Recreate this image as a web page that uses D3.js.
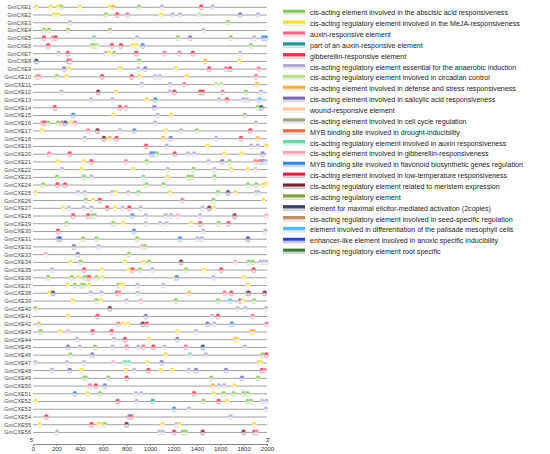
<!DOCTYPE html>
<html>
<head>
<meta charset="utf-8">
<script src="https://cdn.jsdelivr.net/npm/d3@7"></script>
<style>
  body { margin: 0; background: #fff; }
  text { font-family: "Liberation Sans", Arial, sans-serif; }
</style>
</head>
<body>
<div id="chart"></div>
<script>
// element types shown in the legend, in legend order
const elementNames = [
  "cis-acting element involved in the abscisic acid responsiveness",
  "cis-acting regulatory element involved in the MeJA-responsiveness",
  "auxin-responsive element",
  "part of an auxin-responsive element",
  "gibberellin-responsive element",
  "cis-acting regulatory element essential for the anaerobic induction",
  "cis-acting regulatory element involved in circadian control",
  "cis-acting element involved in defense and stress responsiveness",
  "cis-acting element involved in salicylic acid responsiveness",
  "wound-responsive element",
  "cis-acting element involved in cell cycle regulation",
  "MYB binding site involved in drought-inducibility",
  "cis-acting regulatory element involved in auxin responsiveness",
  "cis-acting element involved in gibberellin-responsiveness",
  "MYB binding site involved in flavonoid biosynthetic genes regulation",
  "cis-acting element involved in low-temperature responsiveness",
  "cis-acting regulatory element related to meristem expression",
  "cis-acting regulatory element",
  "element for maximal elicitor-mediated activation (2copies)",
  "cis-acting regulatory element involved in seed-specific regulation",
  "element involved in differentiation of the palisade mesophyll cells",
  "enhancer-like element involved in anoxic specific inducibility",
  "cis-acting regulatory element root specific"
];

const elementColors = [
  "#86c25a", "#f5d83c", "#f06a88", "#23958f", "#e42c48", "#aeaacf",
  "#b6df8c", "#f7ab3a", "#7a68ad", "#f8c6a4", "#9ca88c", "#e56c4a",
  "#68d4a2", "#f7a6b8", "#3a7fdd", "#c9283e", "#6e2230", "#86a03c",
  "#323e68", "#bd8c62", "#4cb6ee", "#2f3fd4", "#3a783a"
];

const geneNames = [
  "GmCXE1", "GmCXE2", "GmCXE3", "GmCXE4", "GmCXE5", "GmCXE6", "GmCXE7", "GmCXE8",
  "GmCXE9", "GmCXE10", "GmCXE11", "GmCXE12", "GmCXE13", "GmCXE14", "GmCXE15", "GmCXE16",
  "GmCXE17", "GmCXE18", "GmCXE19", "GmCXE20", "GmCXE21", "GmCXE22", "GmCXE23", "GmCXE24",
  "GmCXE25", "GmCXE26", "GmCXE27", "GmCXE28", "GmCXE29", "GmCXE30", "GmCXE31", "GmCXE32",
  "GmCXE33", "GmCXE34", "GmCXE35", "GmCXE36", "GmCXE37", "GmCXE38", "GmCXE39", "GmCXE40",
  "GmCXE41", "GmCXE42", "GmCXE43", "GmCXE44", "GmCXE45", "GmCXE46", "GmCXE47", "GmCXE48",
  "GmCXE49", "GmCXE50", "GmCXE51", "GmCXE52", "GmCXE53", "GmCXE54", "GmCXE55", "GmCXE56"
];

// [position (bp), element type index] for each promoter
const promoterSites = [
  [[29,1],[149,1],[214,1],[243,0],[400,1],[657,1],[686,7],[906,0],[1100,5],[1437,4],[1534,5]],
  [[180,1],[214,1],[623,0],[720,4],[806,2],[1094,1],[1194,5],[1257,5],[1420,6],[1771,8],[1923,5]],
  [[317,5],[1666,0]],
  [[94,0],[134,0],[300,0],[657,0],[1457,5]],
  [[94,4],[171,2],[194,4],[523,12],[889,5],[1237,0],[1343,8],[1691,0],[1891,5],[1966,14],[1991,14]],
  [[129,4],[506,0],[529,0],[549,6],[674,4],[751,15],[851,1],[886,1],[937,14],[1863,0]],
  [[217,5],[297,4],[623,5],[651,1],[694,0],[883,4],[1123,2],[1249,2],[1366,4],[1771,5]],
  [[29,18],[306,16],[320,2],[906,0],[1471,7],[1763,1]],
  [[266,8],[306,1],[743,1],[900,5],[960,8],[1220,1],[1506,4],[1649,2],[1686,4],[1929,2]],
  [[34,7],[49,2],[206,0],[286,1],[591,4],[843,4],[909,1],[1043,5],[1086,5],[1314,1],[1906,2]],
  [[929,5],[1171,5],[1294,2],[1566,6],[1609,6],[1914,7]],
  [[243,5],[557,16],[709,1],[1171,5],[1209,4],[1429,4],[1451,15],[1620,2],[1820,0],[1949,5]],
  [[494,5],[680,5],[971,1],[1046,3],[1589,5],[1657,4],[1797,5],[1829,5],[1937,20]],
  [[186,4],[743,4],[794,2],[1037,8],[1923,0],[1951,18]],
  [[343,14],[686,1],[1066,5],[1180,1],[1809,10]],
  [[80,2],[100,4],[129,0],[214,0],[249,2],[277,18],[323,1],[360,2],[1043,5],[1906,5]],
  [[77,1],[471,2],[551,16],[743,5],[866,14],[1137,1],[1266,5],[1400,0],[1857,4]],
  [[443,5],[606,16],[657,7],[714,4],[1114,7],[1177,8],[1566,5],[1777,4],[1920,7]],
  [[966,4],[1143,5],[1491,1],[1866,5],[1920,5],[1995,1]],
  [[137,2],[314,4],[1011,14],[1034,14],[1057,0],[1211,4],[1323,5],[1377,5],[1634,1],[1780,1],[1963,8]],
  [[209,1],[434,1],[500,4],[794,2],[971,0],[1500,5],[1617,8],[1680,0],[1900,2],[1937,11],[1966,14],[1986,5]],
  [[249,5],[414,1],[857,1],[1151,5],[1371,0],[1551,5],[1694,1],[1834,1],[1900,9]],
  [[206,0],[437,0],[500,5],[943,12],[1151,1],[1329,0],[1357,0],[1551,0]],
  [[86,0],[209,4],[274,4],[971,0],[1114,0],[1837,0],[1909,0],[1966,1],[1991,1]],
  [[23,1],[386,5],[443,5],[677,5],[709,1],[814,5],[900,0],[1171,1],[1580,0],[1666,18],[1729,1],[1906,5],[1929,5]],
  [[451,0],[514,1],[571,4],[1277,2],[1543,0],[1971,1]],
  [[257,1],[306,5],[434,5],[500,5],[634,4],[700,1],[766,5],[823,4],[920,5],[1449,5],[1506,16],[1551,1]],
  [[343,4],[471,4],[509,0],[529,0],[849,14],[963,5],[1134,5],[1180,5],[1237,13],[1429,5],[1723,16],[1995,13]],
  [[286,0],[686,0],[771,1],[963,5],[1086,5],[1143,5],[1351,1],[1429,4],[1586,0],[1671,4]],
  [[214,4],[863,14],[1457,5],[1986,5]],
  [[214,8],[229,21],[429,0],[543,0],[891,0],[1257,14],[1406,5],[1443,5],[1837,18]],
  [[349,8],[560,5],[929,13],[957,0]],
  [[109,13],[383,8],[820,0]],
  [[320,1],[406,0],[786,1],[943,1],[991,0],[1266,16],[1729,13],[1843,0],[1877,0],[1943,5],[1971,5],[1994,5]],
  [[163,5],[437,4],[589,1],[823,1],[851,4],[914,0],[1020,5],[1309,0],[1463,1],[1609,4],[1886,4]],
  [[129,0],[329,0],[389,1],[443,0],[463,0],[480,4],[543,0],[591,1],[1214,1],[1229,14],[1543,5],[1806,1]],
  [[294,1],[357,0],[417,0],[434,0],[480,1],[729,0],[751,1],[771,1],[894,5],[1114,5],[1837,1]],
  [[143,1],[171,18],[494,5],[586,5],[720,4],[737,2],[894,5],[1334,7],[1637,2],[1694,4],[1829,0],[1843,16],[1980,16]],
  [[337,1],[543,0],[580,1],[800,5],[920,13],[1220,0],[1580,0],[1686,20],[1771,8],[1794,1],[1891,0]],
  [[20,0],[657,16],[1749,5],[1814,5],[1991,5]],
  [[300,1],[551,4],[963,8],[1531,5],[1580,4],[1877,2]],
  [[49,7],[729,2],[771,1],[814,1],[937,16],[971,4],[1491,8],[1551,5],[1700,14],[1995,2]],
  [[66,0],[231,1],[300,13],[509,4],[671,4],[1234,1],[1394,5],[1863,7],[1886,7]],
  [[377,5],[691,5],[786,4],[991,1],[1234,8],[1729,7],[1751,1]],
  [[300,8],[400,5],[529,0],[680,5],[800,2],[900,5],[943,2],[1029,4],[1123,5],[1306,2],[1451,18],[1809,5]],
  [[320,0],[506,8],[1134,1],[1343,12],[1477,5],[1963,0],[1995,4]],
  [[20,5],[291,5],[437,5],[686,13],[786,12],[820,12],[977,1],[1100,8],[1931,7],[1946,1]],
  [[163,5],[314,8],[414,1],[794,1],[866,5],[986,4],[1091,1],[1186,1],[1329,5],[1394,8],[1649,8],[1957,4],[1980,2]],
  [[437,0],[451,0],[643,0],[800,4],[1523,0],[1786,8],[1923,0]],
  [[486,2],[537,4],[614,8],[1537,7],[1591,5],[1634,5],[1723,1]],
  [[357,14],[463,1],[571,0],[880,5],[923,5],[1377,4],[1543,1],[1629,0],[1714,0],[1800,0],[1834,0]],
  [[23,1],[723,4],[886,5],[1023,3],[1457,0],[1586,4],[1657,1],[1834,0],[1863,0],[1957,5],[1995,5]],
  [[1206,14],[1334,5],[1991,5]],
  [[114,4],[823,14],[837,4],[1689,5]],
  [[57,1],[500,4],[557,1],[580,1],[614,0],[800,16],[1106,1],[1229,5],[1249,1],[1891,1]],
  [[206,5],[1080,5],[1109,5],[1206,4],[1280,0],[1306,0],[1451,16],[1800,16],[1891,4],[1909,2]]
];

const tickValues = [0, 200, 400, 600, 800, 1000, 1200, 1400, 1600, 1800, 2000];

const W = 550, H = 454;
const left = 33, right = 267;
const topY = 7.3, rowStep = 7.73;

const svg = d3.select("#chart").append("svg")
  .attr("width", W)
  .attr("height", H);

const mix = (c, t) => d3.interpolateRgb(c, "#fff")(t);

// gradients: legend swatches (coloured top fading down) and lighter ones for the boxes
const defs = svg.append("defs");
elementColors.forEach((c, i) => {
  const g = defs.append("linearGradient")
    .attr("id", "leg" + i)
    .attr("x1", 0).attr("y1", 0).attr("x2", 0).attr("y2", 1);
  g.append("stop").attr("offset", "0%").attr("stop-color", c);
  g.append("stop").attr("offset", "40%").attr("stop-color", c);
  g.append("stop").attr("offset", "75%").attr("stop-color", mix(c, 0.85));
  g.append("stop").attr("offset", "100%").attr("stop-color", mix(c, 0.6));

  const b = defs.append("linearGradient")
    .attr("id", "box" + i)
    .attr("x1", 0).attr("y1", 0).attr("x2", 0).attr("y2", 1);
  b.append("stop").attr("offset", "0%").attr("stop-color", c);
  b.append("stop").attr("offset", "35%").attr("stop-color", mix(c, 0.25));
  b.append("stop").attr("offset", "65%").attr("stop-color", mix(c, 0.9));
  b.append("stop").attr("offset", "100%").attr("stop-color", mix(c, 0.7));
});

const x = d3.scaleLinear().domain([0, 2000]).range([left, right]);
const y = d3.scalePoint().domain(geneNames).range([topY, topY + rowStep * (geneNames.length - 1)]);

// promoter lines
svg.append("g")
  .selectAll("line")
  .data(geneNames)
  .enter()
  .append("line")
  .attr("x1", x(0))
  .attr("x2", x(2000))
  .attr("y1", d => y(d))
  .attr("y2", d => y(d))
  .attr("stroke", "#a0a0a0")
  .attr("stroke-width", 1);

// gene names
svg.append("g")
  .selectAll("text")
  .data(geneNames)
  .enter()
  .append("text")
  .attr("x", left - 2)
  .attr("y", d => y(d))
  .attr("dy", "0.35em")
  .attr("text-anchor", "end")
  .attr("font-size", 5.6)
  .attr("fill", "#444")
  .text(d => d);

// element boxes
const bw = 3.8, bh = 5.2;
geneNames.forEach((gene, gi) => {
  svg.append("g")
    .selectAll("rect")
    .data(promoterSites[gi])
    .enter()
    .append("rect")
    .attr("x", d => x(d[0]) - bw / 2)
    .attr("y", y(gene) - bh / 2)
    .attr("width", bw)
    .attr("height", bh)
    .attr("rx", 1.4)
    .attr("fill", d => "url(#box" + d[1] + ")")
    .attr("stroke", d => mix(elementColors[d[1]], 0.45))
    .attr("stroke-width", 0.5);
});

// bottom axis
const axisY = 444;
const xAxis = d3.axisBottom(x).tickValues(tickValues).tickFormat(d3.format("d"))
  .tickSize(2).tickPadding(1);
const ax = svg.append("g")
  .attr("transform", "translate(0," + axisY + ")")
  .call(xAxis);
ax.select(".domain").attr("stroke", "#888");
ax.selectAll(".tick line").attr("stroke", "#888");
ax.selectAll("text").attr("font-size", 6).attr("fill", "#333")
  .style("font-family", "'Liberation Sans', Arial, sans-serif");

svg.append("text").attr("x", left - 1).attr("y", axisY - 2)
  .attr("text-anchor", "middle").attr("font-size", 6).attr("fill", "#333").text("5'");
svg.append("text").attr("x", right + 1).attr("y", axisY - 2)
  .attr("text-anchor", "middle").attr("font-size", 6).attr("fill", "#333").text("3'");

// legend
const legend = svg.append("g").attr("transform", "translate(283,12.7)");
const legStep = 10.86;
const items = legend.selectAll("g")
  .data(elementNames)
  .enter()
  .append("g")
  .attr("transform", (d, i) => "translate(0," + i * legStep + ")");

items.append("rect")
  .attr("x", 0)
  .attr("y", -3)
  .attr("width", 22)
  .attr("height", 5.5)
  .attr("fill", (d, i) => "url(#leg" + i + ")");

items.append("text")
  .attr("x", 27)
  .attr("y", 0)
  .attr("dy", "0.35em")
  .attr("font-size", 7.1)
  .attr("fill", "#222")
  .text(d => d);
</script>
</body>
</html>
